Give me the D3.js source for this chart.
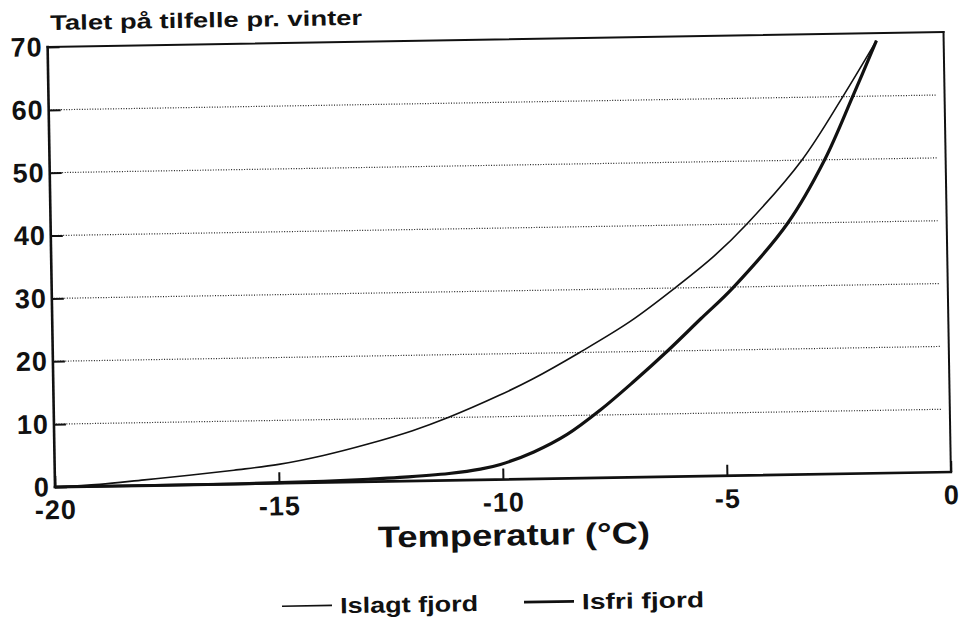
<!DOCTYPE html>
<html>
<head>
<meta charset="utf-8">
<script src="https://cdn.jsdelivr.net/npm/d3@7"></script>
<style>
  body { margin: 0; background: #fff; }
  text { font-family: "Liberation Sans", Arial, sans-serif; fill: #111; }
</style>
</head>
<body>
<script>
const width = 959;
const height = 636;

// tick labels
var xTicks = [-20, -15, -10, -5, 0];
var yTicks = [0, 10, 20, 30, 40, 50, 60, 70];
var gridValues = [10, 20, 30, 40, 50, 60];

// "Islagt fjord" (thin line)
var islagtTemp = [-20, -19, -18, -17, -16, -15, -14, -13, -12, -11.2, -10.05, -9.3, -8.24, -7.1, -6.09, -5.2, -4.46, -3.21, -2.27, -1.5];
var islagtCount = [0, 0.3, 0.9, 1.5, 2.2, 3.0, 4.3, 6.0, 8.0, 10, 13.4, 15.9, 20, 24.8, 30, 35, 40, 50, 60, 68.8];

// "Isfri fjord" (thick line)
var isfriTemp = [-20, -16, -14, -13, -12.3, -11.2, -10.5, -10.05, -9.3, -8.55, -7.8, -7.05, -6.28, -5.53, -4.78, -3.55, -2.7, -2.05, -1.5];
var isfriCount = [0, 0, 0.2, 0.4, 0.6, 1.1, 1.7, 2.4, 4.3, 7.0, 10.8, 15.2, 20, 25, 30, 40, 50, 60, 68.8];

var svg = d3.select("body")
  .append("svg")
  .attr("width", width)
  .attr("height", height);

var plotLeft = 55, plotRight = 951, plotTop = 47, plotBottom = 487;

var x = d3.scaleLinear().domain([-20, 0]).range([plotLeft, plotRight]);
var y = d3.scaleLinear().domain([0, 70]).range([plotBottom, plotTop]);

// the scan is tilted a little, so the whole drawing is too
var g = svg.append("g")
  .attr("transform", "rotate(-0.96," + plotLeft + "," + plotBottom + ")");

// dotted grid lines
g.selectAll("line.grid")
  .data(gridValues)
  .enter()
  .append("line")
  .attr("class", "grid")
  .attr("x1", x(-20) + 2)
  .attr("x2", x(0) - 8)
  .attr("y1", function(d) { return y(d); })
  .attr("y2", function(d) { return y(d); })
  .attr("stroke", "#222")
  .attr("stroke-width", 1.2)
  .attr("stroke-dasharray", "1,1.6");

// y axis with ticks pointing inwards
var yAxis = g.append("g")
  .attr("transform", "translate(" + plotLeft + ",0)")
  .call(d3.axisLeft(y).tickValues(yTicks).tickSize(-12).tickSizeOuter(0).tickPadding(5));

var xAxis = g.append("g")
  .attr("transform", "translate(0," + plotBottom + ")")
  .call(d3.axisBottom(x).tickValues(xTicks).tickSize(-11).tickSizeOuter(0).tickPadding(13)
    .tickFormat(function(d) { return d === 0 ? "0" : "-" + Math.abs(d); }));

[yAxis, xAxis].forEach(function(a) {
  a.select(".domain").remove();
  a.selectAll(".tick line").attr("stroke", "#111").attr("stroke-width", 2);
  a.selectAll(".tick text")
    .style("font-size", "27px")
    .style("font-weight", "bold")
    .attr("fill", "#111")
    .attr("letter-spacing", 1);
});

// frame
var frame = [
  {x1: plotLeft, y1: plotBottom, x2: plotLeft, y2: plotTop, w: 2.6},
  {x1: plotLeft, y1: plotBottom, x2: plotRight, y2: plotBottom, w: 2.6},
  {x1: plotLeft, y1: plotTop, x2: plotRight, y2: plotTop, w: 2},
  {x1: plotRight, y1: plotTop, x2: plotRight, y2: plotBottom, w: 2}
];
g.selectAll("line.frame")
  .data(frame)
  .enter()
  .append("line")
  .attr("class", "frame")
  .attr("x1", function(d) { return d.x1; })
  .attr("y1", function(d) { return d.y1; })
  .attr("x2", function(d) { return d.x2; })
  .attr("y2", function(d) { return d.y2; })
  .attr("stroke", "#111")
  .attr("stroke-width", function(d) { return d.w; })
  .attr("stroke-linecap", "square");

// curves
var line = d3.line()
  .x(function(d) { return x(d[0]); })
  .y(function(d) { return y(d[1]); })
  .curve(d3.curveCatmullRom.alpha(0.5));

g.append("path")
  .datum(d3.zip(islagtTemp, islagtCount))
  .attr("d", line)
  .attr("fill", "none")
  .attr("stroke", "#111")
  .attr("stroke-width", 1.6);

g.append("path")
  .datum(d3.zip(isfriTemp, isfriCount))
  .attr("d", line)
  .attr("fill", "none")
  .attr("stroke", "#111")
  .attr("stroke-width", 3.2);

// titles
g.append("text")
  .attr("x", 58)
  .attr("y", 30)
  .attr("textLength", 312)
  .attr("lengthAdjust", "spacingAndGlyphs")
  .style("font-size", "21px")
  .style("font-weight", "bold")
  .text("Talet på tilfelle pr. vinter");

g.append("text")
  .attr("x", 513 - 136)
  .attr("y", 553)
  .attr("textLength", 272)
  .attr("lengthAdjust", "spacingAndGlyphs")
  .style("font-size", "30px")
  .style("font-weight", "bold")
  .text("Temperatur (°C)");

// legend
var legendItems = [
  {label: "Islagt fjord", x: 280, w: 1.6, len: 138},
  {label: "Isfri fjord", x: 522, w: 2.8, len: 122}
];
var legend = g.selectAll("g.legend")
  .data(legendItems)
  .enter()
  .append("g")
  .attr("class", "legend")
  .attr("transform", function(d) { return "translate(" + d.x + ",610)"; });

legend.append("line")
  .attr("x1", 0)
  .attr("x2", 50)
  .attr("stroke", "#111")
  .attr("stroke-width", function(d) { return d.w; });

legend.append("text")
  .attr("x", 58)
  .attr("y", 8)
  .attr("textLength", function(d) { return d.len; })
  .attr("lengthAdjust", "spacingAndGlyphs")
  .style("font-size", "22px")
  .style("font-weight", "bold")
  .text(function(d) { return d.label; });
</script>
</body>
</html>
